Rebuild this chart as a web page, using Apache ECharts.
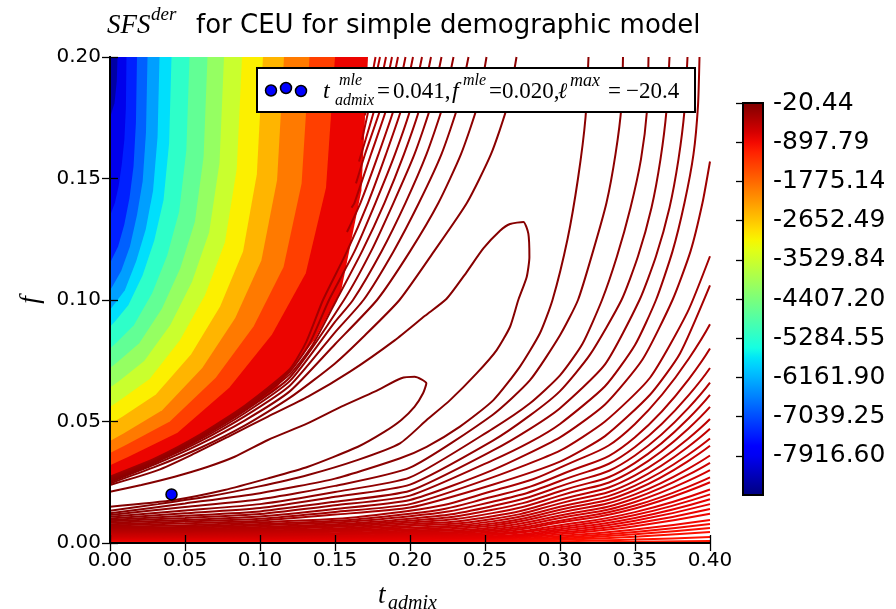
<!DOCTYPE html>
<html>
<head>
<meta charset="utf-8">
<script src="https://cdn.jsdelivr.net/npm/echarts@6.0.0/dist/echarts.min.js"></script>
<style>
  html, body { margin: 0; padding: 0; background: #fff; }
  #chart { width: 896px; height: 609px; }
</style>
</head>
<body>
<div id="chart"></div>
<script>
// colour scale of the log-likelihood surface
const cbMin = -8793.95;
const cbMax = -20.44;
const cbTicks = [-20.44, -897.79, -1775.14, -2652.49, -3529.84, -4407.20, -5284.55, -6161.90, -7039.25, -7916.60];

// maximum likelihood estimate
const mlePoint = [[0.041, 0.020]];

// isolines that bound the dense (filled-looking) colour bands, top edge -> left edge
const isoLevels = [-8245.6, -7697.3, -7148.9, -6600.6, -6052.2, -5503.9, -4955.5, -4407.2,
  -3858.8, -3310.5, -2762.1, -2213.8, -1665.4, -1117.1, -568.7];
const isoLines = [
  [[0.005,0.2],[0.0045,0.19],[0.003,0.181],[0,0.175]],
  [[0.011,0.2],[0.0106,0.179],[0.0096,0.166],[0.0079,0.156],[0.0058,0.147],[0.0033,0.140],[0.0009,0.136],[0,0.135]],
  [[0.018,0.2],[0.0173,0.173],[0.0157,0.155],[0.013,0.142],[0.0095,0.131],[0.0054,0.122],[0.0014,0.117],[0,0.115]],
  [[0.025,0.2],[0.024,0.169],[0.0218,0.149],[0.018,0.135],[0.0133,0.122],[0.0075,0.112],[0.002,0.106],[0,0.104]],
  [[0.033,0.2],[0.0317,0.167],[0.0287,0.145],[0.0238,0.129],[0.0175,0.116],[0.0099,0.104],[0.0026,0.098],[0,0.096]],
  [[0.041,0.2],[0.0394,0.1645],[0.0357,0.1412],[0.0295,0.1245],[0.0217,0.1101],[0.0123,0.0979],[0.0033,0.0912],[0,0.089]],
  [[0.053,0.2],[0.0509,0.1616],[0.0461,0.1364],[0.0382,0.1184],[0.0281,0.1028],[0.0159,0.0896],[0.0042,0.0824],[0,0.08]],
  [[0.065,0.2],[0.0624,0.159],[0.0566,0.1322],[0.0468,0.113],[0.0345,0.0963],[0.0195,0.0822],[0.0052,0.0746],[0,0.072]],
  [[0.076,0.2],[0.073,0.1565],[0.0661,0.1279],[0.0547,0.1075],[0.0403,0.0898],[0.0228,0.0749],[0.0061,0.0667],[0,0.064]],
  [[0.088,0.2],[0.0845,0.1539],[0.0766,0.1237],[0.0634,0.1021],[0.0466,0.0834],[0.0264,0.0675],[0.007,0.0589],[0,0.056]],
  [[0.102,0.2],[0.0979,0.1517],[0.0887,0.12],[0.0734,0.0973],[0.0541,0.0777],[0.0306,0.0611],[0.0082,0.052],[0,0.049]],
  [[0.116,0.2],[0.1114,0.1494],[0.1009,0.1163],[0.0835,0.0926],[0.0615,0.072],[0.0348,0.0546],[0.0093,0.0452],[0,0.042]],
  [[0.133,0.2],[0.1277,0.1478],[0.1157,0.1136],[0.0958,0.0892],[0.0705,0.068],[0.0399,0.05],[0.0106,0.0403],[0,0.037]],
  [[0.15,0.2],[0.144,0.1462],[0.1305,0.111],[0.108,0.0858],[0.0795,0.0639],[0.045,0.0454],[0.012,0.0354],[0,0.032]],
  [[0.172,0.2],[0.1676,0.1451],[0.1542,0.104],[0.1364,0.0835],[0.1098,0.0628],[0.0764,0.0491],[0.0431,0.0367],[0.0076,0.0285],[0,0.027]]
];

// the two innermost contours around the maximum
const c1Level = -46;
const c1Line = [[0,0.0211],[0.0209,0.0239],[0.0431,0.0273],[0.0653,0.0314],[0.0831,0.0355],[0.1053,0.0424],[0.132,0.0493],
  [0.1542,0.0561],[0.1764,0.0623],[0.1942,0.0678],[0.2031,0.0684],[0.2109,0.0657],[0.2087,0.0616],[0.2031,0.0561],
  [0.1942,0.0506],[0.1831,0.0458],[0.1653,0.0396],[0.132,0.0314],[0.1053,0.0266],[0.0764,0.0218],[0.0431,0.0177],[0,0.0149]];
const c2Level = -72;
const c2Line = [[0,0.0239],[0.032,0.03],[0.0542,0.0362],[0.0787,0.0437],[0.1053,0.052],[0.132,0.0602],[0.16,0.0705],
  [0.19,0.0835],[0.21,0.0935],[0.2244,0.1005],[0.2378,0.1115],[0.2489,0.1212],[0.26,0.1285],[0.2667,0.1313],
  [0.2756,0.1321],[0.2789,0.1273],[0.2796,0.1177],[0.2778,0.1095],[0.2722,0.1],[0.2667,0.089],[0.2578,0.0794],
  [0.2444,0.0698],[0.2267,0.0588],[0.2111,0.0506],[0.1933,0.041],[0.1653,0.0342],[0.132,0.028],[0.0987,0.0232],
  [0.0653,0.0191],[0.032,0.016],[0,0.0133]];

// upper-left branches of the outer contours
const aLevels = [-98, -124, -150, -176, -202, -228, -254, -280, -306, -332, -358, -384, -410, -436];
const aLines = [
  [[0,0.0245],[0.03,0.0313],[0.06,0.0391],[0.09,0.0484],[0.12,0.0598],[0.15,0.0739],[0.17,0.0855],[0.193,0.1],[0.216,0.12],[0.238,0.14],[0.254,0.16],[0.265,0.18],[0.271,0.2]],
  [[0,0.0251],[0.03,0.0324],[0.06,0.0407],[0.09,0.0505],[0.12,0.0625],[0.15,0.0818],[0.178,0.1],[0.2,0.12],[0.219,0.14],[0.234,0.16],[0.245,0.18],[0.251,0.2]],
  [[0,0.0256],[0.03,0.0331],[0.06,0.0418],[0.09,0.0522],[0.12,0.0648],[0.15,0.0867],[0.169,0.1],[0.189,0.12],[0.206,0.14],[0.221,0.16],[0.232,0.18],[0.239,0.2]],
  [[0,0.026],[0.03,0.0336],[0.06,0.0426],[0.09,0.0535],[0.12,0.0667],[0.15,0.091],[0.162,0.1],[0.181,0.12],[0.197,0.14],[0.211,0.16],[0.222,0.18],[0.229,0.2]],
  [[0,0.0264],[0.03,0.0339],[0.06,0.0433],[0.09,0.0545],[0.12,0.0682],[0.156,0.1],[0.174,0.12],[0.189,0.14],[0.203,0.16],[0.214,0.18],[0.221,0.2]],
  [[0,0.0267],[0.03,0.0342],[0.06,0.0438],[0.09,0.0553],[0.12,0.0695],[0.135,0.0815],[0.151,0.1],[0.168,0.12],[0.183,0.14],[0.196,0.16],[0.207,0.18],[0.214,0.2]],
  [[0,0.027],[0.03,0.0345],[0.06,0.0442],[0.09,0.056],[0.12,0.0706],[0.133,0.082],[0.146,0.1],[0.163,0.12],[0.177,0.14],[0.19,0.16],[0.201,0.18],[0.208,0.2]],
  [[0,0.0273],[0.03,0.0348],[0.06,0.0446],[0.09,0.0566],[0.12,0.0716],[0.131,0.083],[0.142,0.1],[0.158,0.12],[0.172,0.14],[0.184,0.16],[0.195,0.18],[0.202,0.2]],
  [[0.158,0.128],[0.167,0.14],[0.179,0.16],[0.19,0.18],[0.197,0.2]],
  [[0.161,0.138],[0.163,0.14],[0.174,0.16],[0.185,0.18],[0.192,0.2]],
  [[0.164,0.148],[0.17,0.16],[0.181,0.18],[0.188,0.2]],
  [[0.166,0.157],[0.177,0.18],[0.184,0.2]],
  [[0.168,0.166],[0.173,0.18],[0.18,0.2]],
  [[0.17,0.176],[0.177,0.2]]
];

// lower-right branches of the outer contours
const bLevels = [-98, -124, -150, -176, -202, -228, -254, -280, -306, -332, -358, -384, -410, -436, -462, -488,
  -514, -540, -566, -592, -618, -644, -670, -696, -722, -748, -774, -800, -826, -852, -878, -904, -930, -956, -982, -1008];
const bLines = [
  [[0,0.0122],[0.05,0.0163],[0.1,0.0205],[0.15,0.0265],[0.193,0.0348],[0.2111,0.0396],[0.2333,0.0479],[0.2556,0.0588],[0.2733,0.0726],[0.2867,0.0864],[0.295,0.1],[0.305,0.125],[0.312,0.15],[0.317,0.175],[0.319,0.2]],
  [[0,0.0115],[0.05,0.0148],[0.1,0.018],[0.15,0.0235],[0.2,0.031],[0.255,0.0527],[0.28,0.067],[0.3,0.0855],[0.312,0.1],[0.322,0.12],[0.331,0.14],[0.337,0.16],[0.341,0.18],[0.342,0.2]],
  [[0,0.0108],[0.05,0.0134],[0.1,0.016],[0.15,0.021],[0.2,0.027],[0.255,0.047],[0.28,0.0575],[0.3,0.069],[0.315,0.082],[0.328,0.1],[0.338,0.118],[0.347,0.138],[0.354,0.158],[0.358,0.178],[0.359,0.2]],
  [[0,0.0101],[0.05,0.0122],[0.1,0.0144],[0.15,0.019],[0.2,0.024],[0.255,0.042],[0.28,0.0525],[0.3,0.0625],[0.32,0.0775],[0.341,0.1],[0.352,0.118],[0.361,0.138],[0.367,0.158],[0.371,0.178],[0.373,0.2]],
  [[0,0.0095],[0.05,0.0112],[0.1,0.013],[0.15,0.017],[0.2,0.0215],[0.255,0.038],[0.28,0.047],[0.3,0.0555],[0.33,0.0735],[0.353,0.1],[0.364,0.118],[0.373,0.138],[0.379,0.158],[0.383,0.178],[0.385,0.2]],
  [[0,0.0089],[0.05,0.0103],[0.1,0.0119],[0.15,0.0155],[0.2,0.0195],[0.255,0.034],[0.28,0.0415],[0.3,0.049],[0.33,0.0645],[0.35,0.0815],[0.364,0.1],[0.375,0.12],[0.383,0.14],[0.389,0.16],[0.392,0.18],[0.393,0.2]],
  [[0,0.0083],[0.05,0.0095],[0.1,0.0109],[0.15,0.014],[0.2,0.0177],[0.255,0.03],[0.3,0.0435],[0.33,0.057],[0.355,0.0755],[0.375,0.1],[0.387,0.12],[0.395,0.14],[0.4,0.157]],
  [[0,0.0077],[0.05,0.0088],[0.1,0.01],[0.15,0.0128],[0.2,0.016],[0.255,0.027],[0.3,0.038],[0.33,0.05],[0.36,0.068],[0.385,0.095],[0.4,0.118]],
  [[0,0.0072],[0.05,0.0081],[0.1,0.0092],[0.15,0.0117],[0.2,0.0146],[0.255,0.024],[0.3,0.0335],[0.33,0.044],[0.36,0.061],[0.38,0.078],[0.4,0.106]],
  [[0,0.0066],[0.1,0.0085],[0.2,0.0133],[0.255,0.0214],[0.3,0.031],[0.35,0.049],[0.4,0.09]],
  [[0,0.0062],[0.1,0.0078],[0.2,0.012],[0.255,0.019],[0.3,0.028],[0.35,0.0435],[0.4,0.080]],
  [[0,0.0058],[0.1,0.0072],[0.2,0.011],[0.255,0.017],[0.3,0.0255],[0.35,0.0395],[0.4,0.072]],
  [[0,0.0054],[0.1,0.0066],[0.2,0.010],[0.255,0.0152],[0.3,0.0233],[0.35,0.036],[0.4,0.066]],
  [[0,0.005],[0.1,0.0061],[0.2,0.0092],[0.255,0.0137],[0.3,0.0213],[0.35,0.033],[0.4,0.061]],
  [[0,0.0047],[0.1,0.0056],[0.2,0.0084],[0.255,0.0123],[0.3,0.0195],[0.35,0.0303],[0.4,0.056]],
  [[0,0.0044],[0.1,0.0051],[0.2,0.0077],[0.255,0.011],[0.3,0.0178],[0.35,0.0278],[0.4,0.051]],
  [[0,0.0041],[0.1,0.0047],[0.2,0.007],[0.255,0.0099],[0.3,0.0163],[0.35,0.0256],[0.4,0.047]],
  [[0,0.0038],[0.1,0.0043],[0.2,0.0063],[0.255,0.0089],[0.3,0.0149],[0.35,0.0236],[0.4,0.043]],
  [[0,0.0035],[0.1,0.0039],[0.2,0.0057],[0.255,0.008],[0.3,0.0137],[0.35,0.0218],[0.4,0.040]],
  [[0,0.0032],[0.1,0.0035],[0.2,0.0051],[0.255,0.0072],[0.3,0.0125],[0.35,0.0200],[0.4,0.036]],
  [[0,0.0029],[0.1,0.0032],[0.2,0.0046],[0.255,0.0064],[0.3,0.0113],[0.35,0.0184],[0.4,0.033]],
  [[0,0.0026],[0.1,0.0029],[0.2,0.0041],[0.255,0.0057],[0.3,0.0103],[0.35,0.0169],[0.4,0.030]],
  [[0,0.0024],[0.1,0.0026],[0.2,0.0036],[0.255,0.005],[0.3,0.0092],[0.35,0.0154],[0.4,0.027]],
  [[0,0.0022],[0.1,0.0023],[0.2,0.0032],[0.255,0.0044],[0.3,0.0084],[0.35,0.0142],[0.4,0.025]],
  [[0,0.002],[0.1,0.002],[0.2,0.0028],[0.255,0.0038],[0.3,0.0073],[0.35,0.0127],[0.4,0.022]],
  [[0,0.0018],[0.1,0.0018],[0.2,0.0024],[0.255,0.0033],[0.3,0.0065],[0.35,0.0115],[0.4,0.020]],
  [[0,0.0016],[0.1,0.0016],[0.2,0.0021],[0.255,0.0028],[0.3,0.0057],[0.35,0.0103],[0.4,0.018]],
  [[0,0.0014],[0.1,0.0014],[0.2,0.0018],[0.255,0.0024],[0.3,0.005],[0.35,0.0092],[0.4,0.016]],
  [[0,0.0012],[0.1,0.0012],[0.2,0.0015],[0.255,0.002],[0.3,0.0043],[0.35,0.008],[0.4,0.014]],
  [[0,0.001],[0.1,0.001],[0.2,0.0012],[0.255,0.0016],[0.3,0.0036],[0.35,0.0069],[0.4,0.012]],
  [[0,0.0008],[0.1,0.0008],[0.2,0.001],[0.255,0.0013],[0.3,0.0029],[0.35,0.0056],[0.4,0.0095]],
  [[0,0.0007],[0.1,0.0007],[0.2,0.0008],[0.255,0.001],[0.3,0.0023],[0.35,0.0045],[0.4,0.0078]],
  [[0,0.0005],[0.1,0.0005],[0.2,0.0006],[0.255,0.0007],[0.3,0.0018],[0.35,0.0036],[0.4,0.0062]],
  [[0,0.0004],[0.1,0.0004],[0.2,0.0004],[0.255,0.0005],[0.3,0.0013],[0.35,0.0026],[0.4,0.0045]],
  [[0,0.0002],[0.1,0.0002],[0.2,0.0002],[0.255,0.0003],[0.3,0.0007],[0.35,0.0014],[0.4,0.0025]],
  [[0,0.0001],[0.1,0.0001],[0.2,0.0001],[0.255,0.0001],[0.3,0.0002],[0.35,0.0005],[0.4,0.0008]]
];

// matplotlib "jet" colormap
function jet(x) {
  x = Math.max(0, Math.min(1, x));
  const seg = pts => {
    for (let i = 1; i < pts.length; i++) {
      if (x <= pts[i][0]) {
        const [x0, y0] = pts[i - 1], [x1, y1] = pts[i];
        return y0 + (y1 - y0) * (x - x0) / (x1 - x0);
      }
    }
    return pts[pts.length - 1][1];
  };
  const r = seg([[0, 0], [0.35, 0], [0.66, 1], [0.89, 1], [1, 0.5]]);
  const g = seg([[0, 0], [0.125, 0], [0.375, 1], [0.64, 1], [0.91, 0], [1, 0]]);
  const b = seg([[0, 0.5], [0.11, 1], [0.34, 1], [0.65, 0], [1, 0]]);
  return 'rgb(' + Math.round(r * 255) + ',' + Math.round(g * 255) + ',' + Math.round(b * 255) + ')';
}
const levelColor = v => jet((v - cbMin) / (cbMax - cbMin));

function contour(points, level, smooth) {
  return {
    type: 'line', xAxisIndex: 0, yAxisIndex: 0, data: points,
    showSymbol: false, symbol: 'none', smooth: smooth || 0.2, silent: true, z: 3,
    lineStyle: { color: levelColor(level), width: 2 }
  };
}

const series = [];
// filled-looking bands, outermost first so inner ones paint over
series.push({
  type: 'custom', xAxisIndex: 0, yAxisIndex: 0, silent: true, z: 1,
  data: isoLevels.map((v, i) => [0, 0.2, isoLevels.length - 1 - i]),
  renderItem: (params, api) => {
    const i = api.value(2);
    const pts = isoLines[i].map(p => api.coord(p));
    pts.push(api.coord([0, 0.2]));
    const lo = i === 0 ? cbMin : isoLevels[i - 1];
    return { type: 'polygon', shape: { points: pts }, style: { fill: levelColor((lo + isoLevels[i]) / 2) } };
  }
});
// lower levels first so that the darker, higher levels end up on top (as matplotlib does)
for (let i = bLines.length - 1; i >= 0; i--) series.push(contour(bLines[i], bLevels[i], i >= 9 ? 0.5 : 0.2));
for (let i = aLines.length - 1; i >= 0; i--) series.push(contour(aLines[i], aLevels[i]));
series.push(contour(c2Line, c2Level));
series.push(contour(c1Line, c1Level));
series.push({
  type: 'scatter', xAxisIndex: 0, yAxisIndex: 0, data: mlePoint, symbolSize: 11, z: 5,
  itemStyle: { color: '#0000ff', borderColor: '#000', borderWidth: 1.5, opacity: 1 }
});
// colour bar
series.push({
  type: 'custom', xAxisIndex: 2, yAxisIndex: 2, silent: true,
  data: [[0, cbMin, cbMax]],
  renderItem: (params, api) => {
    const top = api.coord([0, api.value(2)]);
    const bot = api.coord([1, api.value(1)]);
    const stops = [];
    for (let k = 0; k <= 40; k++) stops.push({ offset: k / 40, color: jet(1 - k / 40) });
    const shape = { x: top[0], y: top[1], width: bot[0] - top[0], height: bot[1] - top[1] };
    return {
      type: 'group', children: [
        { type: 'rect', shape, style: { fill: new echarts.graphic.LinearGradient(0, 0, 0, 1, stops) } },
        { type: 'rect', shape, style: { fill: 'none', stroke: '#000', lineWidth: 2 } }
      ]
    };
  }
});

const tickFont = { fontFamily: 'DejaVu Sans', fontSize: 20, color: '#000' };
const frameLine = { show: true, lineStyle: { color: '#000', width: 2 } };
const inTick = { show: true, inside: true, length: 8, lineStyle: { color: '#000', width: 1.3 } };
const fmt = v => v.toFixed(2);
const serif = { fontFamily: 'Liberation Serif', fontStyle: 'italic', fill: '#000', verticalAlign: 'middle' };
const txt = (x, y, text, size, extra) => ({ type: 'text', x, y, z: 101, style: Object.assign({}, serif, { text, fontSize: size }, extra || {}) });
const upright = { fontStyle: 'normal' };

const chart = echarts.init(document.getElementById('chart'), null, { renderer: 'canvas' });
chart.setOption({
  animation: false,
  backgroundColor: '#fff',
  grid: [
    { left: 110, top: 57, width: 600, height: 486 },
    { left: 743, top: 103, width: 20, height: 392 }
  ],
  xAxis: [
    { gridIndex: 0, type: 'value', min: 0, max: 0.4, interval: 0.05, position: 'bottom', z: 10,
      axisLine: frameLine, axisTick: inTick, splitLine: { show: false },
      axisLabel: Object.assign({ formatter: fmt, margin: 8 }, tickFont) },
    { gridIndex: 0, type: 'value', min: 0, max: 0.4, interval: 0.05, position: 'top', z: 10,
      axisLine: frameLine, axisTick: inTick, splitLine: { show: false }, axisLabel: { show: false } },
    { gridIndex: 1, type: 'value', min: 0, max: 1, show: false }
  ],
  yAxis: [
    { gridIndex: 0, type: 'value', min: 0, max: 0.2, interval: 0.05, position: 'left', z: 10,
      axisLine: frameLine, axisTick: inTick, splitLine: { show: false },
      axisLabel: Object.assign({ formatter: fmt, margin: 9 }, tickFont) },
    { gridIndex: 0, type: 'value', min: 0, max: 0.2, interval: 0.05, position: 'right', z: 10,
      axisLine: frameLine, axisTick: inTick, splitLine: { show: false }, axisLabel: { show: false } },
    { gridIndex: 1, type: 'value', min: cbMin, max: cbMax, position: 'right', z: 10,
      axisLine: { show: false }, splitLine: { show: false },
      axisTick: { show: true, inside: true, length: 7, customValues: cbTicks, lineStyle: { color: '#000', width: 1.3 } },
      axisLabel: { customValues: cbTicks, formatter: fmt, margin: 10, fontFamily: 'DejaVu Sans', fontSize: 25, color: '#000' } }
  ],
  series: series,
  graphic: [
    // title
    txt(107, 26, 'SFS', 27),
    txt(151, 15, 'der', 19),
    { type: 'text', x: 196, y: 26, z: 100, style: { text: 'for CEU for simple demographic model', fontFamily: 'DejaVu Sans', fontSize: 26, fill: '#000', verticalAlign: 'middle' } },
    // axis names
    txt(378, 596, 't', 27),
    txt(388, 604, 'admix', 20),
    { type: 'text', x: 31, y: 300, rotation: Math.PI / 2, z: 100, style: Object.assign({}, serif, { text: 'f', fontSize: 27, align: 'center' }) },
    // legend
    { type: 'rect', z: 100, shape: { x: 257, y: 68, width: 438, height: 44 }, style: { fill: '#fff', stroke: '#000', lineWidth: 2 } },
    { type: 'circle', z: 101, shape: { cx: 271, cy: 90.5, r: 5.5 }, style: { fill: '#0000ff', stroke: '#000', lineWidth: 1.5 } },
    { type: 'circle', z: 101, shape: { cx: 286, cy: 88, r: 5.5 }, style: { fill: '#0000ff', stroke: '#000', lineWidth: 1.5 } },
    { type: 'circle', z: 101, shape: { cx: 301, cy: 91, r: 5.5 }, style: { fill: '#0000ff', stroke: '#000', lineWidth: 1.5 } },
    txt(323, 92, 't', 24),
    txt(339, 81, 'mle', 16),
    txt(335, 101, 'admix', 16),
    txt(377, 92, '=', 23, upright),
    txt(393, 92, '0.041,', 23, upright),
    txt(452, 92, 'f', 24),
    txt(463, 81, 'mle', 16),
    txt(489, 92, '=', 23, upright),
    txt(502, 92, '0.020,', 23, upright),
    txt(558, 92, '\u2113', 22, { fontFamily: 'DejaVu Serif' }),
    txt(570, 81, 'max', 18),
    txt(608, 92, '=', 23, upright),
    txt(626, 92, '\u221220.4', 23, upright)
  ]
});
</script>
</body>
</html>
